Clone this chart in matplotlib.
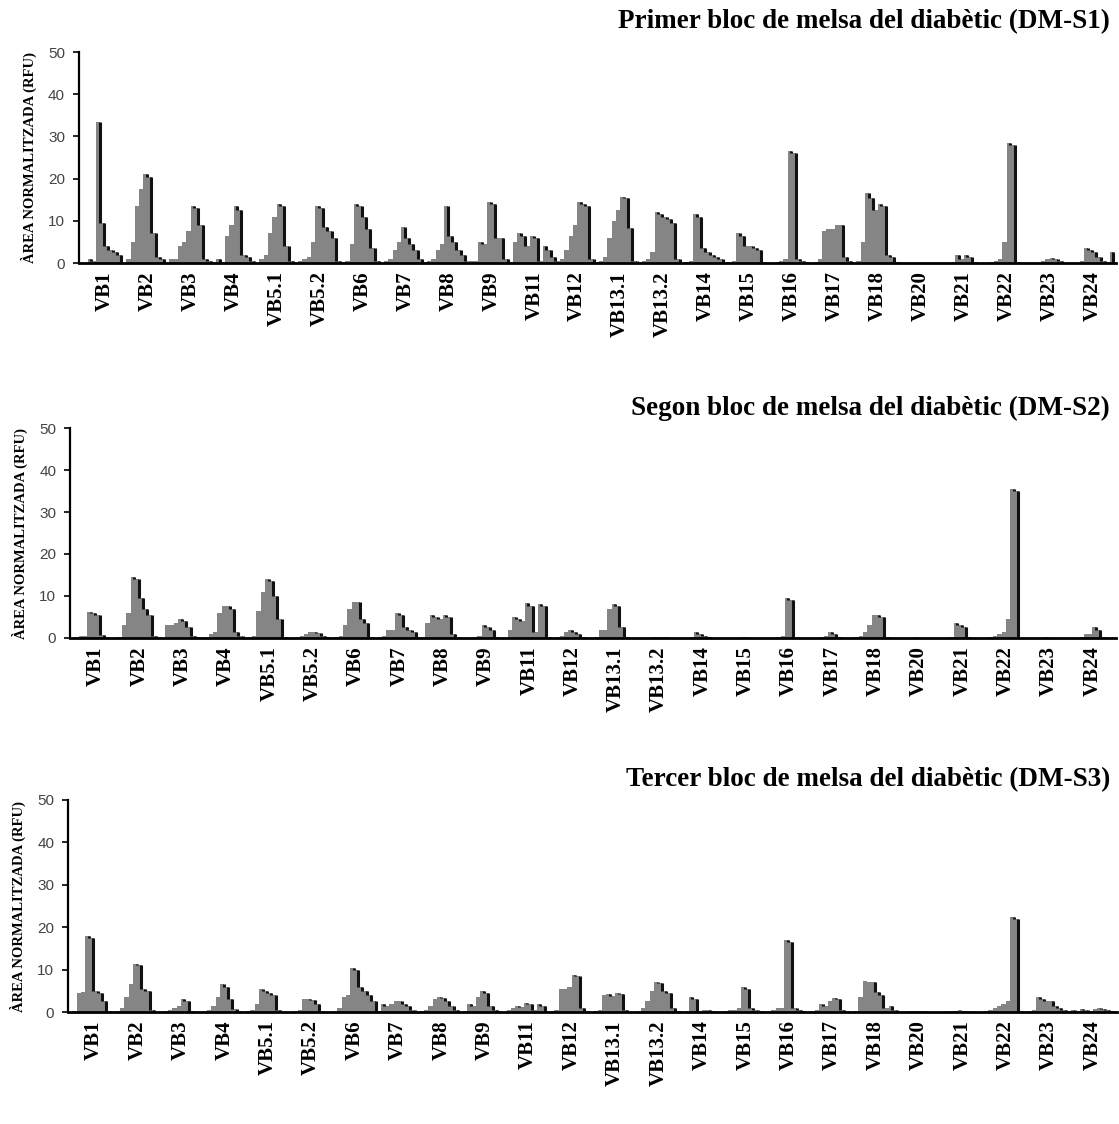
import numpy as np
import matplotlib.pyplot as plt

# group labels (x axis)
groups = ['VB1', 'VB2', 'VB3', 'VB4', 'VB5.1', 'VB5.2', 'VB6', 'VB7', 'VB8', 'VB9',
          'VB11', 'VB12', 'VB13.1', 'VB13.2', 'VB14', 'VB15', 'VB16', 'VB17', 'VB18',
          'VB20', 'VB21', 'VB22', 'VB23', 'VB24']

titles = ['Primer bloc de melsa del diabètic (DM-S1)',
          'Segon bloc de melsa del diabètic (DM-S2)',
          'Tercer bloc de melsa del diabètic (DM-S3)']

# normalised area (RFU), 10 fractions per group
s1 = [
    [0, 1, 0.5, 33.5, 9.5, 4, 3, 2.5, 2, 0],
    [1, 5, 13.5, 17.5, 21, 20.5, 7, 1.5, 1, 0],
    [1, 1, 4, 5, 7.5, 13.5, 13, 9, 1, 0.5],
    [0.3, 1, 0.3, 6.5, 9, 13.5, 12.5, 2, 1.5, 0.5],
    [0, 1, 2, 7, 11, 14, 13.5, 4, 0.5, 0],
    [0.5, 1, 1.5, 5, 13.5, 13, 8.5, 7.5, 6, 0.5],
    [0.3, 0.5, 4.5, 14, 13.5, 11, 8, 3.5, 0.5, 0],
    [0.5, 1, 3, 5, 8.5, 6, 4.5, 3, 1, 0.3],
    [0.5, 1, 3, 4.5, 13.5, 6.5, 5, 3, 2, 0.5],
    [0.5, 0.5, 5, 4.5, 14.5, 14, 6, 6, 1, 0.3],
    [5, 7, 6.5, 4, 6.5, 6, 0.5, 4, 3, 1.5],
    [0.5, 1, 3, 6.5, 9, 14.5, 14, 13.5, 1, 0.3],
    [0.5, 1.5, 6, 10, 12.5, 15.7, 15.5, 8.3, 0.5, 0.3],
    [0.5, 1, 2.5, 12, 11.5, 11, 10.5, 9.5, 1, 0.3],
    [0.3, 0.5, 11.5, 11, 3.5, 2.5, 2, 1.5, 1, 0.3],
    [0.3, 0.5, 7, 6.5, 4, 4, 3.5, 3, 0.3, 0],
    [0, 0.3, 0.5, 1, 26.5, 26, 1, 0.5, 0.3, 0],
    [0.3, 1, 7.5, 8, 8, 9, 9, 1.5, 0.5, 0],
    [0.5, 5, 16.5, 15.5, 12.5, 14, 13.5, 2, 1.5, 0.3],
    [0, 0, 0, 0, 0, 0, 0, 0, 0, 0],
    [0, 0, 0.3, 2, 1, 2, 1.5, 0.3, 0, 0],
    [0, 0.3, 0.5, 1, 5, 28.5, 28, 0.3, 0, 0],
    [0, 0, 0, 0.5, 1, 1.2, 1, 0.5, 0, 0],
    [0, 0, 0.5, 3.5, 3, 2.5, 1.5, 0.5, 0.3, 2.5],
]

s2 = [
    [0.3, 0.5, 0.5, 6.3, 6, 5.5, 0.8, 0.3, 0, 0],
    [0.3, 3, 6, 14.5, 14, 9.5, 7, 5.5, 0.5, 0.3],
    [0, 3, 3, 3.5, 4.5, 4, 2.5, 0.5, 0.3, 0],
    [0.3, 1, 1.5, 6, 7.5, 7.5, 7, 1.5, 0.5, 0],
    [0.3, 0.5, 6.5, 11, 14, 13.5, 10, 4.5, 0.3, 0],
    [0, 0.3, 0.5, 1, 1.5, 1.5, 1.2, 0.5, 0.3, 0],
    [0.3, 0.5, 3, 7, 8.5, 8.5, 4.5, 3.5, 0.3, 0],
    [0.3, 0.5, 2, 2, 6, 5.5, 2.5, 2, 1.5, 0.3],
    [0.3, 3.5, 5.5, 5, 4.5, 5.5, 5, 1, 0.3, 0],
    [0, 0, 0.3, 0.5, 3, 2.5, 2, 0.3, 0, 0],
    [2, 5, 4.5, 4, 8.3, 7.5, 1.5, 8, 7.5, 0.3],
    [0, 0.3, 0.5, 1.5, 1.8, 1.5, 1, 0.3, 0, 0],
    [0.3, 2, 2, 7, 8, 7.5, 2.5, 0.3, 0, 0],
    [0, 0, 0, 0.2, 0.3, 0.3, 0.2, 0, 0, 0],
    [0, 0, 0.3, 1.5, 1, 0.5, 0.3, 0, 0, 0],
    [0, 0, 0, 0.1, 0.2, 0.2, 0.1, 0, 0, 0],
    [0, 0, 0.2, 0.5, 9.5, 9, 0.3, 0, 0, 0],
    [0, 0, 0.3, 0.5, 1.5, 1, 0.3, 0, 0, 0],
    [0.2, 0.5, 1.5, 3, 5.5, 5.5, 5, 0.3, 0, 0],
    [0, 0, 0, 0.1, 0.2, 0.1, 0, 0, 0, 0],
    [0, 0, 0.3, 3.5, 3, 2.5, 0.3, 0, 0, 0],
    [0, 0.3, 0.5, 1, 1.5, 4.5, 35.5, 35, 0, 0],
    [0, 0, 0, 0.1, 0.2, 0.1, 0, 0, 0, 0],
    [0, 0, 0.3, 1, 1, 2.5, 2, 0.3, 0, 0],
]

s3 = [
    [0.3, 4.5, 4.7, 18, 17.5, 5, 4.5, 2.5, 0.3, 0],
    [0.3, 1, 3.5, 6.5, 11.3, 11, 5.5, 5, 0.5, 0],
    [0, 0.3, 0.5, 1, 1.5, 3, 2.5, 0.3, 0, 0],
    [0.3, 0.5, 1.5, 3.5, 6.5, 6, 3, 0.8, 0.3, 0],
    [0.3, 0.5, 2, 5.5, 5, 4.5, 4, 0.5, 0, 0],
    [0, 0.3, 0.5, 3, 3, 2.8, 2, 0.3, 0, 0],
    [0.3, 1, 3.5, 4, 10.5, 10, 6, 5, 4, 2.5],
    [0.3, 2, 1.5, 2, 2.5, 2.5, 2, 1.5, 0.5, 0],
    [0.3, 0.5, 1.5, 3, 3.5, 3.3, 2.5, 1.5, 0.5, 0],
    [0.3, 2, 1.5, 3.5, 5, 4.5, 1.5, 0.5, 0, 0],
    [0.5, 1, 1.5, 1.2, 2.2, 2, 0.5, 1.8, 1.5, 0.3],
    [0.3, 0.5, 5.5, 5.5, 5.8, 8.8, 8.5, 1, 0.3, 0],
    [0.3, 0.5, 4, 4.2, 3.8, 4.5, 4.3, 0.5, 0, 0],
    [0.3, 1, 2.5, 5, 7, 6.8, 5, 4.5, 1, 0.3],
    [0, 0.3, 3.5, 3, 0.3, 0.5, 0.5, 0.3, 0, 0],
    [0.3, 0.5, 0.5, 1, 6, 5.5, 1, 0.5, 0.3, 0],
    [0.3, 0.5, 1, 1, 17, 16.5, 1, 0.5, 0.3, 0],
    [0.3, 0.5, 2, 1.5, 2.5, 3.3, 3, 0.5, 0.3, 0],
    [0.3, 3.5, 7.3, 7.2, 7, 4.8, 4, 1, 1.5, 0.5],
    [0, 0.1, 0.2, 0.3, 0.3, 0.3, 0.2, 0.1, 0, 0],
    [0.1, 0.2, 0.3, 0.3, 0.4, 0.3, 0.3, 0.2, 0.1, 0],
    [0.3, 0.5, 1, 1.5, 2, 2.5, 22.5, 22, 0.3, 0],
    [0.3, 0.5, 3.5, 3, 2.5, 2.5, 1.5, 1, 0.5, 0.3],
    [0.5, 0.3, 0.8, 0.5, 0.3, 0.8, 1, 0.8, 0.5, 0.3],
]

series = [s1, s2, s3]

fig = plt.figure(figsize=(11.19, 11.24), dpi=100)

# axes rectangles [left, bottom, width, height] in figure fractions
rects = [[0.0706, 0.766, 0.927, 0.1877],
         [0.0626, 0.4324, 0.935, 0.1868],
         [0.0608, 0.0996, 0.937, 0.1887]]
title_y = [0.9804, 0.637, 0.306]

nsub = 10
w = 1.0 / nsub
serif = 'Liberation Serif'

for p in range(3):
    ax = fig.add_axes(rects[p])
    vals = np.array(series[p], dtype=float)
    x = np.concatenate([i - 0.5 + w * (np.arange(nsub) + 0.5) for i in range(len(groups))])
    y = vals.ravel()
    ax.bar(x, y, width=w, color='#858585', edgecolor='none', linewidth=0)
    # dark right edge on every downward step
    nxt = np.append(y[1:], 0)
    drop = y > nxt + 0.15
    ax.vlines(x[drop] + w * 0.32, nxt[drop], y[drop], color='#111111', linewidth=2.2)

    ax.set_xlim(-0.6, 23.55)
    ax.set_ylim(0, 50)
    ax.set_yticks([0, 10, 20, 30, 40, 50])
    ax.set_xticks(np.arange(len(groups)))
    ax.set_xticklabels(groups, rotation=90, fontfamily=serif, fontweight='bold',
                       fontsize=15)
    ax.tick_params(axis='x', length=0, pad=6)
    ax.tick_params(axis='y', length=4, width=1.2, labelsize=11, labelcolor='#444444',
                   pad=6)
    for lab in ax.get_yticklabels():
        lab.set_fontfamily('Liberation Sans')
    for s in ['top', 'right']:
        ax.spines[s].set_visible(False)
    ax.spines['left'].set_linewidth(1.6)
    ax.spines['bottom'].set_linewidth(2.0)
    ax.set_ylabel('ÀREA NORMALITZADA (RFU)', fontfamily=serif, fontweight='bold',
                  fontsize=10.5, labelpad=8)
    fig.text(0.992, title_y[p], titles[p], ha='right', va='center',
             fontfamily=serif, fontweight='bold', fontsize=19.5)

fig.savefig('out.png', dpi=100)
